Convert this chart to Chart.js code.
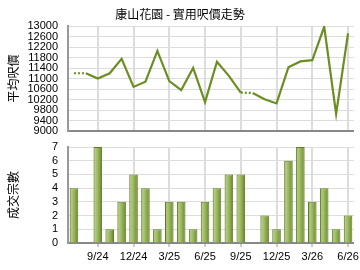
<!DOCTYPE html>
<html><head><meta charset="utf-8">
<script src="https://cdn.jsdelivr.net/npm/chart.js@4"></script>
<style>
html,body{margin:0;padding:0;background:#fff;}
#wrap{position:relative;width:360px;height:270px;overflow:hidden;}
#c1{position:absolute;left:0;top:0;}
#c2{position:absolute;left:0;top:140px;}
</style></head><body>
<div id="wrap">
<canvas id="c1" width="360" height="140"></canvas>
<canvas id="c2" width="360" height="130"></canvas>
</div>
<script>
const months = ['7/24','8/24','9/24','10/24','11/24','12/24','1/25','2/25','3/25','4/25','5/25','6/25',
  '7/25','8/25','9/25','10/25','11/25','12/25','1/26','2/26','3/26','4/26','5/26','6/26'];
const avgPrice = [11200,11200,11000,11200,11750,10680,10880,12050,10900,10560,11400,10100,
  11640,11100,10460,10450,10210,10050,11430,11650,11700,12970,9650,12720];
const noDeal = [false,true,false,false,false,false,false,false,false,false,false,false,
  false,false,false,true,false,false,false,false,false,false,false,false];
const deals = [4,0,7,1,3,5,4,1,3,3,1,3,4,5,5,0,2,1,6,7,3,4,1,2];
const quarterLabels = ['9/24','12/24','3/25','6/25','9/25','12/25','3/26','6/26'];
const priceTicks = [9000,9400,9800,10200,10600,11000,11400,11800,12200,12600,13000];
const dealTicks = [0,1,2,3,4,5,6,7];
const title = '康山花園 - 實用呎價走勢';

const isQ = i => quarterLabels.includes(months[i]);
const FONT = "'Liberation Sans', Arial, sans-serif";
const CJK = "'Noto Sans CJK TC', sans-serif";

const titlePlugin = {
  id:'tt',
  afterDraw(chart){
    const c = chart.ctx;
    c.save();
    c.font = "12px " + CJK;
    c.fillStyle = '#000';
    c.textAlign = 'center';
    c.textBaseline = 'middle';
    c.fillText(title, 180, 14);
    c.restore();
  }
};

function yFit(s){ s.width = 68; s.paddingTop = 0; s.paddingBottom = 0; }
function xFit(h){ return s => { s.paddingLeft = 0; s.paddingRight = 0; s.height = h; }; }

const xGrid = {
  offset:false,
  color: ctx => (ctx.index !== undefined && isQ(ctx.index)) ? '#dcdcdc' : 'rgba(0,0,0,0)',
  lineWidth: ctx => (ctx.index !== undefined && isQ(ctx.index)) ? 2 : 0,
};

new Chart(document.getElementById('c1'), {
  type:'line',
  data:{labels:months, datasets:[{
    data:avgPrice,
    borderColor:'#6b8e23',
    borderWidth:2.2,
    pointRadius:0,
    tension:0,
    segment:{ borderDash: ctx => noDeal[ctx.p1DataIndex] ? [2,2] : undefined }
  }]},
  options:{
    responsive:false, animation:false,
    layout:{padding:{left:0,right:6,top:26,bottom:9}},
    plugins:{legend:{display:false},tooltip:{enabled:false}},
    scales:{
      x:{offset:true, afterFit:xFit(0),
        grid:Object.assign({drawTicks:false}, xGrid),
        border:{display:true,color:'#888',width:2},
        ticks:{display:false,autoSkip:false}},
      y:{min:9000,max:13000, afterFit:yFit,
        afterBuildTicks: s => { s.ticks = priceTicks.map(v=>({value:v})); },
        grid:{color:'#dddddd',lineWidth:1,drawTicks:false},
        border:{display:true,color:'#999',width:2},
        ticks:{autoSkip:false,padding:10,color:'#000',font:{family:FONT,size:11},callback:v=>String(v)},
        title:{display:true,text:'平均呎價',color:'#000',font:{family:CJK,size:12},padding:{top:6,bottom:0}}}
    }
  },
  plugins:[titlePlugin]
});

function barFill(ctx){
  const ch = ctx.chart;
  const xs = ch.scales && ch.scales.x;
  const fallback = '#8fad4f';
  if(!xs || ctx.dataIndex === undefined) return fallback;
  const cx = xs.getPixelForValue(ctx.dataIndex);
  if(!isFinite(cx)) return fallback;
  const w = 9;
  const g = ch.ctx.createLinearGradient(cx - w/2, 0, cx + w/2, 0);
  g.addColorStop(0,'#6e8e30');
  g.addColorStop(0.22,'#b3ca80');
  g.addColorStop(0.45,'#9fba66');
  g.addColorStop(0.75,'#809f40');
  g.addColorStop(1,'#55721f');
  return g;
}
new Chart(document.getElementById('c2'), {
  type:'bar',
  data:{labels:months, datasets:[{
    data:deals,
    backgroundColor:barFill,
    borderColor:'#5e7e24',
    borderWidth:{left:1,right:1,top:1,bottom:0},
    barPercentage:0.72, categoryPercentage:1
  }]},
  options:{
    responsive:false, animation:false,
    layout:{padding:{left:0,right:6,top:7,bottom:0}},
    plugins:{legend:{display:false},tooltip:{enabled:false}},
    scales:{
      x:{offset:true, afterFit:xFit(27),
        grid:Object.assign({drawTicks:true,tickLength:4,
          tickColor: ctx => (ctx.index !== undefined && isQ(ctx.index)) ? '#999' : 'rgba(0,0,0,0)',
          tickWidth:1}, xGrid),
        border:{display:true,color:'#888',width:2},
        ticks:{autoSkip:false,maxRotation:0,padding:3,color:'#000',font:{family:FONT,size:11},
          callback:(v,i)=> isQ(i) ? months[i] : ''}},
      y:{min:0,max:7, afterFit:yFit,
        afterBuildTicks: s => { s.ticks = dealTicks.map(v=>({value:v})); },
        ticks:{autoSkip:false,padding:10,color:'#000',font:{family:FONT,size:11},callback:v=>String(v)},
        grid:{color:'#dddddd',lineWidth:1,drawTicks:false},
        border:{display:true,color:'#999',width:2},
        title:{display:true,text:'成交宗數',color:'#000',font:{family:CJK,size:12},padding:{top:6,bottom:0}}}
    }
  }
});
</script>
</body></html>
